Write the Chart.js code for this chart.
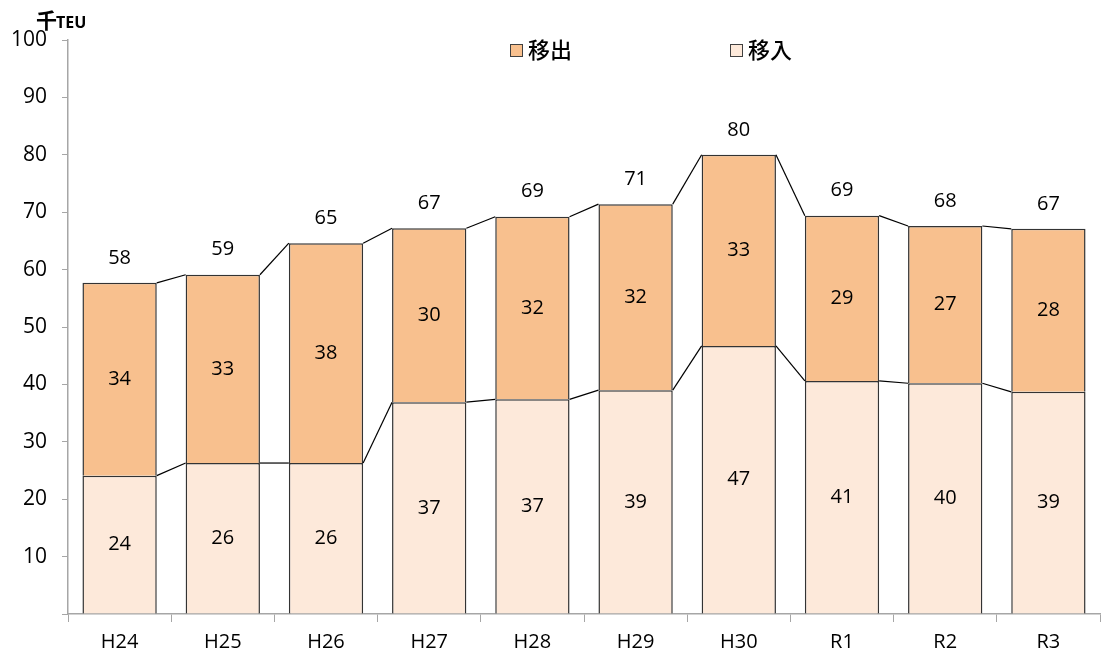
<!DOCTYPE html>
<html>
<head>
<meta charset="utf-8">
<script src="https://cdn.jsdelivr.net/npm/chart.js@4/dist/chart.umd.min.js"></script>
<style>
  html, body { margin: 0; padding: 0; background: #fff; }
  #wrap { width: 1105px; height: 655px; }
</style>
</head>
<body>
<div id="wrap"><canvas id="teuChart" width="1105" height="655"></canvas></div>
<script>
const categories = ['H24', 'H25', 'H26', 'H27', 'H28', 'H29', 'H30', 'R1', 'R2', 'R3'];
const inbound = [24.1, 26.3, 26.3, 36.9, 37.4, 39.0, 46.7, 40.6, 40.2, 38.7];   // 移入
const outbound = [33.6, 32.8, 38.3, 30.3, 31.8, 32.4, 33.3, 28.8, 27.4, 28.4];  // 移出
const yTicks = [0, 10, 20, 30, 40, 50, 60, 70, 80, 90, 100];

const numFont = '"Open Sans", "Noto Sans", sans-serif';
const jpFont = '"Noto Sans CJK JP", sans-serif';

// lines joining bar tops + value labels + legend + unit
const decorations = {
  id: 'decorations',
  afterDatasetsDraw(chart) {
    const ctx = chart.ctx;
    ctx.save();
    // connector lines between neighbouring bars
    ctx.strokeStyle = '#000';
    ctx.lineWidth = 1.2;
    chart.data.datasets.forEach((ds, di) => {
      const bars = chart.getDatasetMeta(di).data;
      for (let i = 0; i < bars.length - 1; i++) {
        const a = bars[i], b = bars[i + 1];
        ctx.beginPath();
        ctx.moveTo(a.x + a.width / 2, a.y);
        ctx.lineTo(b.x - b.width / 2, b.y);
        ctx.stroke();
      }
    });

    // segment labels
    ctx.fillStyle = '#000';
    ctx.font = '20px ' + numFont;
    ctx.textAlign = 'center';
    ctx.textBaseline = 'middle';
    chart.data.datasets.forEach((ds, di) => {
      chart.getDatasetMeta(di).data.forEach((bar, i) => {
        ctx.fillText(Math.round(ds.data[i]), bar.x, (bar.y + bar.base) / 2);
      });
    });

    // totals
    const top = chart.getDatasetMeta(1).data;
    top.forEach((bar, i) => {
      ctx.fillText(Math.round(inbound[i] + outbound[i]), bar.x, bar.y - 25);
    });

    // legend
    const items = [
      { label: chart.data.datasets[1].label, color: chart.data.datasets[1].backgroundColor, x: 510 },
      { label: chart.data.datasets[0].label, color: chart.data.datasets[0].backgroundColor, x: 730 }
    ];
    items.forEach(it => {
      ctx.fillStyle = it.color;
      ctx.fillRect(it.x, 44, 12, 12);
      ctx.strokeStyle = '#404040';
      ctx.lineWidth = 1;
      ctx.strokeRect(it.x + 0.5, 44.5, 12, 12);
      ctx.fillStyle = '#000';
      ctx.font = '500 22px ' + jpFont;
      ctx.textAlign = 'left';
      ctx.fillText(it.label, it.x + 18, 50);
    });

    // unit
    ctx.font = 'bold 21px ' + jpFont;
    ctx.fillText('千', 36, 20);
    ctx.font = 'bold 16px ' + numFont;
    ctx.fillText('TEU', 56, 23);
    ctx.restore();
  }
};

new Chart(document.getElementById('teuChart').getContext('2d'), {
  type: 'bar',
  data: {
    labels: categories,
    datasets: [
      {
        label: '移入',
        data: inbound,
        backgroundColor: '#FDE9DA',
        borderColor: '#333333',
        borderWidth: 1.5,
        barPercentage: 0.72,
        categoryPercentage: 1
      },
      {
        label: '移出',
        data: outbound,
        backgroundColor: '#F8C08E',
        borderColor: '#333333',
        borderWidth: 1.5,
        barPercentage: 0.72,
        categoryPercentage: 1
      }
    ]
  },
  options: {
    responsive: false,
    animation: false,
    layout: { padding: { left: 0, top: 40, right: 5, bottom: 0 } },
    plugins: {
      legend: { display: false },
      tooltip: { enabled: false }
    },
    scales: {
      x: {
        stacked: true,
        grid: { drawOnChartArea: false, tickLength: 8, color: '#a6a6a6' },
        border: { color: '#a6a6a6', width: 1.5 },
        ticks: { color: '#000', font: { size: 20, family: numFont }, padding: 8 },
        afterFit(axis) { axis.height = 41; }
      },
      y: {
        stacked: true,
        min: 0,
        max: 100,
        afterBuildTicks(axis) {
          axis.ticks = yTicks.map(v => ({ value: v }));
        },
        grid: { drawOnChartArea: false, tickLength: 6, color: '#a6a6a6' },
        border: { color: '#a6a6a6', width: 1.5 },
        ticks: {
          color: '#000',
          font: { size: 21, family: numFont },
          padding: 15,
          callback(value) {
            return value === 0 ? '' : value;
          }
        },
        afterFit(axis) { axis.width = 68; }
      }
    }
  },
  plugins: [decorations]
});
</script>
</body>
</html>
